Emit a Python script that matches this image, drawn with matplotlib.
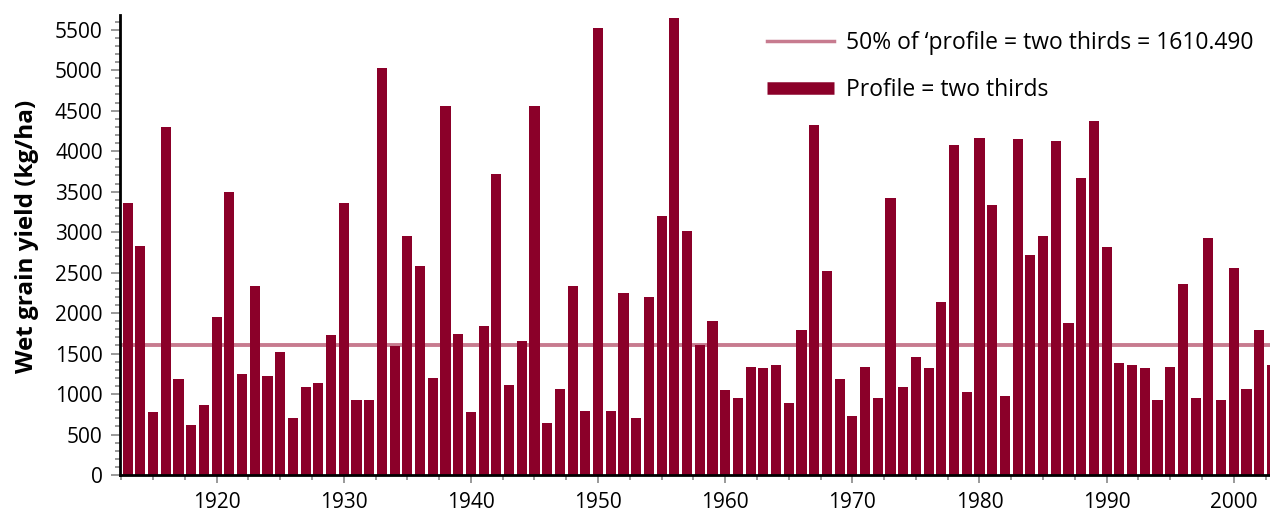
import matplotlib
matplotlib.use("Agg")
import matplotlib.pyplot as plt
from matplotlib.lines import Line2D
from matplotlib.ticker import MultipleLocator

years = list(range(1913, 2004))
yields = [
    3360, 2826, 777, 4294, 1185, 617, 864, 1950, 3492, 1246,
    2332, 1222, 1518, 703, 1086, 1135, 1727, 3360, 925, 925,
    5022, 1592, 2949, 2579, 1197, 4553, 1740, 777, 1839, 3714,
    1110, 1653, 4553, 642, 1061, 2332, 790, 5516, 790, 2246,
    703, 2196, 3196, 5639, 3011, 1604, 1900, 1049, 950, 1333,
    1320, 1357, 888, 1789, 4319, 2517, 1185, 728, 1333, 950,
    3418, 1086, 1456, 1320, 2135, 4072, 1024, 4158, 3332, 975,
    4146, 2715, 2949, 4121, 1876, 3665, 4368, 2813, 1382, 1357,
    1320, 925, 1333, 2357, 950, 2924, 925, 2554, 1061, 1789,
    1357,
]
threshold = 1610.490
bar_label = "Profile = two thirds"
line_label = "50% of \u2018profile = two thirds = 1610.490"
ylabel = "Wet grain yield (kg/ha)"

bar_color = "#8b0029"
line_color = "#c77b8f"

plt.rcParams['font.family'] = ['Open Sans', 'DejaVu Sans']

fig = plt.figure(figsize=(12.7, 5.13), dpi=100)
ax = fig.add_axes([0.0945, 0.074, 0.9055, 0.896])

ax.bar(years, yields, width=0.79, color=bar_color, zorder=2)
ax.axhline(threshold, color=line_color, lw=2.8, zorder=1)

ax.set_xlim(1912.4, 2002.85)
ax.set_ylim(0, 5676)

ax.yaxis.set_major_locator(MultipleLocator(500))
ax.yaxis.set_minor_locator(MultipleLocator(100))
ax.xaxis.set_major_locator(MultipleLocator(10))
ax.xaxis.set_minor_locator(MultipleLocator(2.5))

for s in ['top', 'right']:
    ax.spines[s].set_visible(False)
for s in ['left', 'bottom']:
    ax.spines[s].set_linewidth(2)
    ax.spines[s].set_color('black')
    ax.spines[s].set_zorder(4)

ax.tick_params(axis='both', which='major', labelsize=15, color='#888888', width=1.2)
ax.tick_params(axis='both', which='minor', color='#888888', width=1.2, length=3.5)
ax.tick_params(axis='y', which='major', length=6.5, pad=6)
ax.tick_params(axis='x', which='major', length=6, pad=6)

ax.set_ylabel(ylabel, fontsize=17.5, fontweight='bold')
ax.yaxis.set_label_coords(-0.0705, 0.52)

handles = [Line2D([0], [0], color=line_color, lw=2.5),
           Line2D([0], [0], color=bar_color, lw=9, solid_capstyle='butt')]
ax.legend(handles, [line_label, bar_label], loc='upper right',
          bbox_to_anchor=(1.0, 1.0), frameon=False, fontsize=16.5,
          handlelength=2.9, handletextpad=0.55, labelspacing=1.0,
          borderaxespad=0.3)

fig.savefig("out.png", dpi=100)
